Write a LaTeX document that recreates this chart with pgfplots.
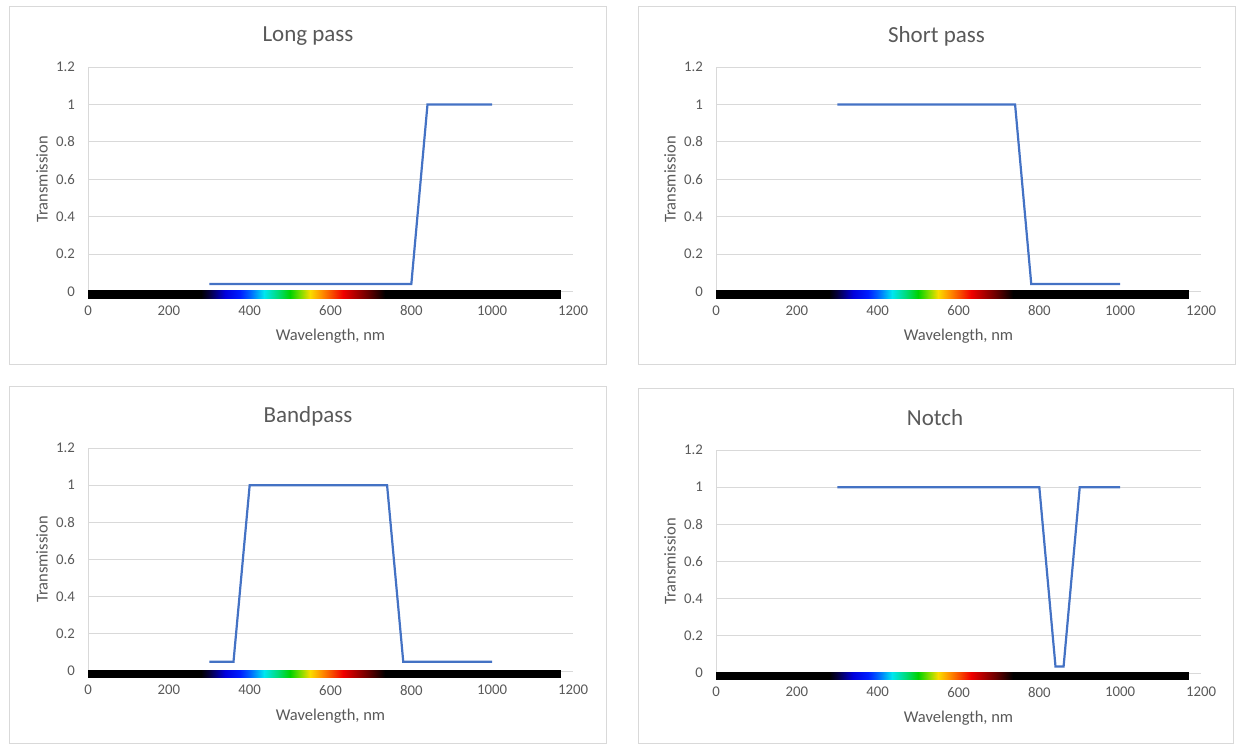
\documentclass[border=0pt]{standalone}
\usepackage{fontspec}
\setmainfont{Carlito}
\usepackage{pgfplots}
\pgfplotsset{compat=1.18}
\usepackage{pgfplotstable}
\definecolor{txt}{HTML}{595959}
\definecolor{grd}{HTML}{D9D9D9}
\definecolor{ln}{HTML}{4472C4}
\definecolor{frm}{HTML}{D9D9D9}

\pgfplotstableread{
x y c
0 -0.035 0
280 -0.035 280
280 0.008 280
0 0.008 0
280 -0.035 280
300 -0.035 300
300 0.008 300
280 0.008 280
300 -0.035 300
340 -0.035 340
340 0.008 340
300 0.008 300
340 -0.035 340
375 -0.035 375
375 0.008 375
340 0.008 340
375 -0.035 375
400 -0.035 400
400 0.008 400
375 0.008 375
400 -0.035 400
435 -0.035 435
435 0.008 435
400 0.008 400
435 -0.035 435
470 -0.035 470
470 0.008 470
435 0.008 435
470 -0.035 470
500 -0.035 500
500 0.008 500
470 0.008 470
500 -0.035 500
525 -0.035 525
525 0.008 525
500 0.008 500
525 -0.035 525
550 -0.035 550
550 0.008 550
525 0.008 525
550 -0.035 550
580 -0.035 580
580 0.008 580
550 0.008 550
580 -0.035 580
630 -0.035 630
630 0.008 630
580 0.008 580
630 -0.035 630
690 -0.035 690
690 0.008 690
630 0.008 630
690 -0.035 690
735 -0.035 735
735 0.008 735
690 0.008 690
735 -0.035 735
1170 -0.035 1170
1170 0.008 1170
735 0.008 735
}\spec

\pgfplotsset{
  colormap={spectrum}{rgb255(0pt)=(0,0,0) rgb255(280pt)=(0,0,0) rgb255(300pt)=(5,0,60)
    rgb255(340pt)=(0,0,220) rgb255(375pt)=(0,30,255) rgb255(400pt)=(0,100,255)
    rgb255(435pt)=(0,230,240) rgb255(470pt)=(0,220,120) rgb255(500pt)=(0,210,0)
    rgb255(525pt)=(120,220,0) rgb255(550pt)=(250,220,0) rgb255(580pt)=(255,140,0)
    rgb255(630pt)=(240,0,0) rgb255(690pt)=(110,0,0) rgb255(735pt)=(0,0,0) rgb255(1170pt)=(0,0,0)},
  filt/.style={
    scale only axis, width=242.5pt, height=112.25pt, anchor=south west,
    xmin=0, xmax=1200, ymin=0, ymax=1.2,
    xtick={0,200,400,600,800,1000,1200},
    ytick={0,0.2,0.4,0.6,0.8,1,1.2},
    ymajorgrids, grid style={grd, line width=0.5pt},
    axis x line*=bottom, axis y line*=left,
    axis line style={grd, line width=0.5pt, -},
    major tick length=0pt,
    tick label style={font=\fontsize{7.4}{8}\selectfont, text=txt},
    xticklabel style={yshift=-3.5pt},
    yticklabel style={xshift=-3pt},
    /pgf/number format/assume math mode=true,
    /pgf/number format/1000 sep={},
    label style={font=\fontsize{8.25}{10}\selectfont, text=txt},
    xlabel={Wavelength, nm}, ylabel={Transmission},
    xlabel style={at={(axis description cs:0.5,0)}, anchor=center, yshift=-22.5pt},
    ylabel style={at={(axis description cs:-0.095,0.5)}, anchor=center},
    clip=false,
    colormap name=spectrum, point meta min=0, point meta max=1170,
  },
  specbar/.style={patch, patch type=rectangle, shader=interp, point meta=explicit},
  filtline/.style={ln, line width=1.1pt, mark=none},
}

\begin{document}
\begin{tikzpicture}
\path (0pt,0pt) rectangle (619pt,-372pt);
\draw[frm, line width=0.5pt] (4.5pt,-3pt) rectangle (303pt,-182pt);
\draw[frm, line width=0.5pt] (319pt,-3pt) rectangle (617.5pt,-182pt);
\draw[frm, line width=0.5pt] (4.5pt,-193pt) rectangle (303pt,-371.5pt);
\draw[frm, line width=0.5pt] (319pt,-194pt) rectangle (616.5pt,-371.5pt);

\node[font=\fontsize{11.5}{14}\selectfont, text=txt] at (154pt,-18pt) {Long pass};
\node[font=\fontsize{11.5}{14}\selectfont, text=txt] at (468.25pt,-18pt) {Short pass};
\node[font=\fontsize{11.5}{14}\selectfont, text=txt] at (154pt,-208pt) {Bandpass};
\node[font=\fontsize{11.5}{14}\selectfont, text=txt] at (467.5pt,-209pt) {Notch};

\begin{axis}[filt, at={(44pt,-145.75pt)}]
\addplot[specbar] table[meta=c] {\spec};
\addplot[filtline] coordinates {(300,0.04) (800,0.04) (840,1) (1000,1)};
\end{axis}

\begin{axis}[filt, at={(358pt,-145.75pt)}]
\addplot[specbar] table[meta=c] {\spec};
\addplot[filtline] coordinates {(300,1) (740,1) (780,0.04) (1000,0.04)};
\end{axis}

\begin{axis}[filt, at={(44pt,-335.5pt)}, height=111.5pt]
\addplot[specbar] table[meta=c] {\spec};
\addplot[filtline] coordinates {(300,0.05) (360,0.05) (400,1) (740,1) (780,0.05) (1000,0.05)};
\end{axis}

\begin{axis}[filt, at={(358pt,-336.5pt)}, height=111.5pt]
\addplot[specbar] table[meta=c] {\spec};
\addplot[filtline] coordinates {(300,1) (800,1) (840,0.035) (860,0.035) (900,1) (1000,1)};
\end{axis}
\end{tikzpicture}
\end{document}
